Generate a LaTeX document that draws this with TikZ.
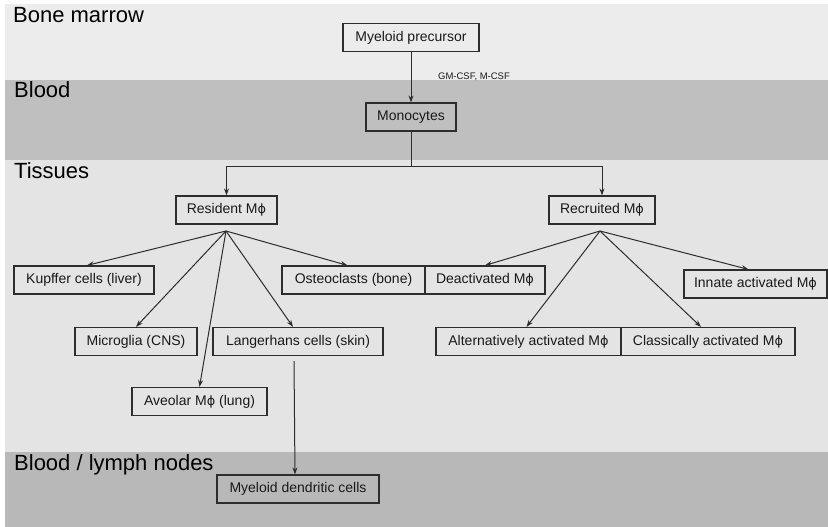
\documentclass[tikz,border=0pt]{standalone}
\usepackage{fontspec}
\setmainfont{Liberation Sans}
\newfontfamily\phifont[Scale=0.92]{DejaVu Sans}
\usepackage{tikz}
\usetikzlibrary{positioning,arrows.meta}
\definecolor{MarrowGray}{RGB}{236, 236, 236}
\definecolor{BloodGray}{RGB}{191, 191, 191}
\definecolor{TissueGray}{RGB}{228, 228, 228}
\definecolor{LymphGray}{RGB}{184, 184, 184}
\definecolor{LineGray}{RGB}{45, 45, 45}
\newcommand{\Mphi}{M{\phifont ϕ}}

\begin{document}
\begin{tikzpicture}[x=1pt, y=-1pt,
  box/.style={rectangle, draw=LineGray, line width=1.2pt, minimum height=28pt, inner sep=2pt, text=black!90, font=\fontsize{14}{16}\selectfont},
  zone/.style={anchor=base west, inner sep=0pt, text=black, font=\fontsize{22}{24}\selectfont},
  arrow/.style={-{Stealth[length=7pt, width=5pt]}, line width=1pt, LineGray}
]
  \useasboundingbox (0,0) rectangle (828,527);
  \fill[white] (0,0) rectangle (828,527);
  \fill[MarrowGray] (5,4) rectangle (828,80);
  \fill[BloodGray] (5,80) rectangle (828,160);
  \fill[TissueGray] (5,160) rectangle (828,452);
  \fill[LymphGray] (5,452) rectangle (828,527);

  \node[zone] (marrowlabel) at (13,23) {Bone marrow};
  \node[zone] (bloodlabel) at (14,98) {Blood};
  \node[zone] (tissuelabel) at (14,178) {Tissues};
  \node[zone] (lymphlabel) at (14,470) {Blood / lymph nodes};

  \node[box, minimum width=136pt] (precursor) at (411,37.5) {Myeloid precursor};
  \node[box, minimum width=90pt] (monocytes) at (411,117) {Monocytes};
  \node[font=\fontsize{9.5}{11}\selectfont, text=black!90, inner sep=0pt] (csf) at (474,77) {GM-CSF, M-CSF};

  \node[box, minimum width=101pt] (resident) at (226.5,210) {Resident \Mphi};
  \node[box, minimum width=106pt] (recruited) at (602,210) {Recruited \Mphi};

  \node[box, minimum width=140pt] (kupffer) at (84,280) {Kupffer cells (liver)};
  \node[box, minimum width=143pt] (osteo) at (353.5,280) {Osteoclasts (bone)};
  \node[box, minimum width=120pt] (deact) at (485,280) {Deactivated \Mphi};
  \node[box, minimum width=143pt] (innate) at (755.5,284) {Innate activated \Mphi};

  \node[box, minimum width=122pt] (microglia) at (136,341.5) {Microglia (CNS)};
  \node[box, minimum width=170pt] (langerhans) at (298,341.5) {Langerhans cells (skin)};
  \node[box, minimum width=185pt] (alternative) at (528.5,341.5) {Alternatively activated \Mphi};
  \node[box, minimum width=174pt] (classical) at (708,341.5) {Classically activated \Mphi};

  \node[box, minimum width=135pt] (aveolar) at (199.5,401.5) {Aveolar \Mphi{} (lung)};
  \node[box, minimum width=162pt] (dendritic) at (298,489) {Myeloid dendritic cells};

  \coordinate (split) at (411,166);
  \coordinate (resfan) at (226,231);
  \coordinate (recfan) at (600,231);

  \draw[arrow] (precursor) -- (monocytes);
  \draw[LineGray, line width=1pt] (monocytes) -- (split);
  \draw[arrow] (split) -| (resident);
  \draw[arrow] (split) -| (recruited);

  \draw[arrow] (resfan) -- ([xshift=3pt]kupffer.north);
  \draw[arrow] (resfan) -- (microglia.north);
  \draw[arrow] (resfan) -- (aveolar.north);
  \draw[arrow] (resfan) -- ([xshift=-5pt]langerhans.north);
  \draw[arrow] (resfan) -- ([xshift=-6pt]osteo.north);

  \draw[arrow] (recfan) -- (deact.north);
  \draw[arrow] (recfan) -- ([xshift=-2pt]alternative.north);
  \draw[arrow] (recfan) -- ([xshift=-7pt]classical.north);
  \draw[arrow] (recfan) -- ([xshift=-7pt]innate.north);

  \draw[arrow] ([xshift=-4pt, yshift=-5pt]langerhans.south) -- ([xshift=-3pt]dendritic.north);
\end{tikzpicture}
\end{document}
